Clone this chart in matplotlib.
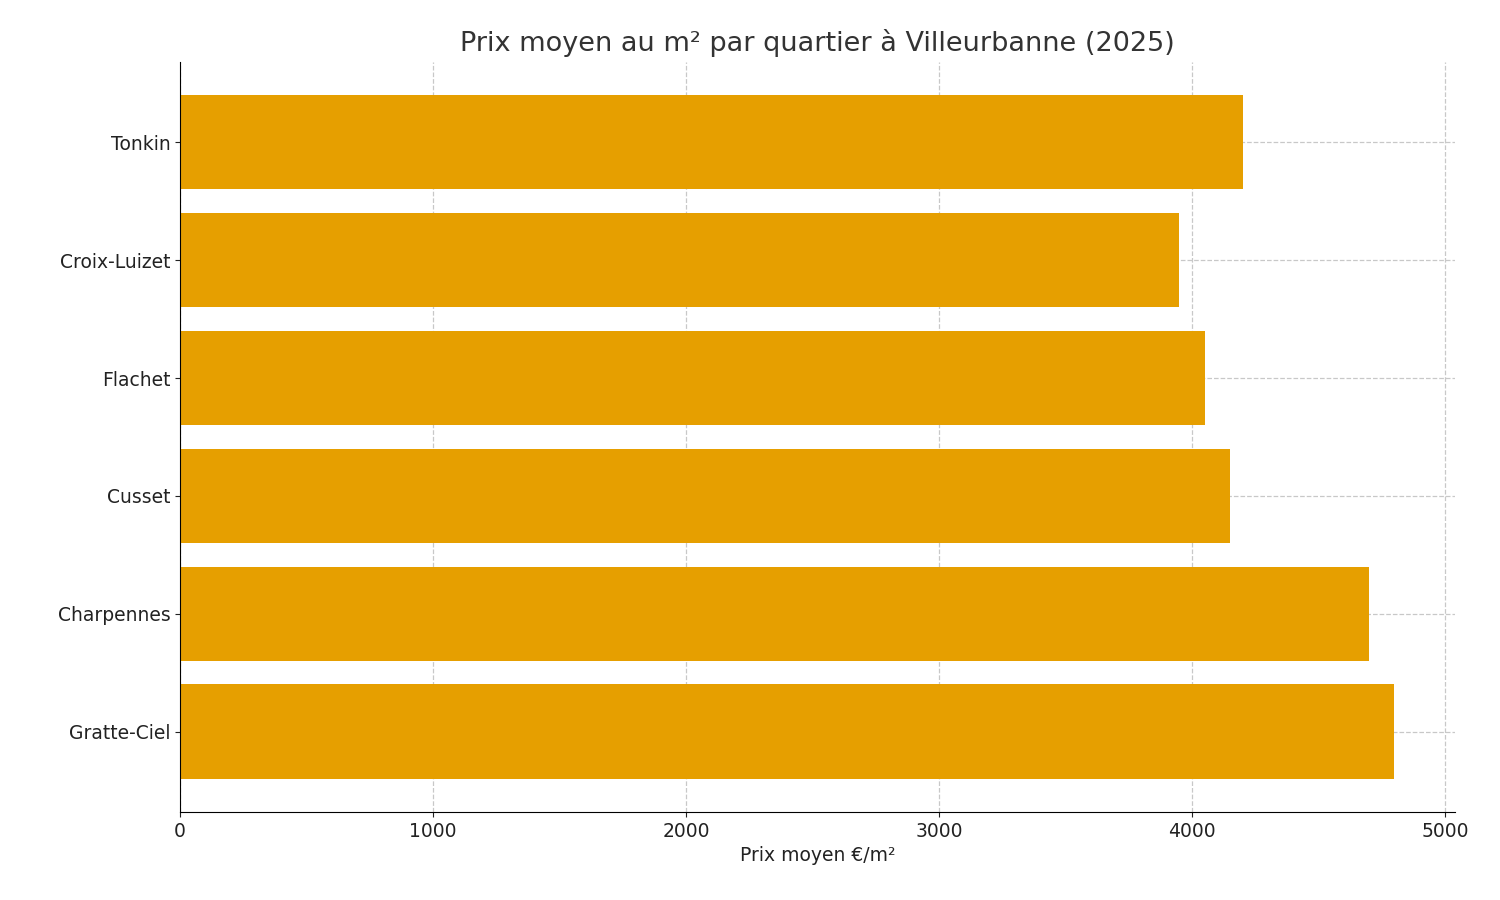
import matplotlib
matplotlib.use("Agg")
import matplotlib.pyplot as plt

quartiers = ["Gratte-Ciel", "Charpennes", "Cusset", "Flachet", "Croix-Luizet", "Tonkin"]
prix = [4800, 4700, 4150, 4050, 3950, 4200]

fig = plt.figure(figsize=(15, 9), dpi=100)
ax = fig.add_axes([0.12, 0.098, 0.85, 0.833])
ax.barh(quartiers, prix, color="#E69F00", height=0.8, zorder=2)
ax.set_xlim(0, 5040)
ax.set_ylim(-0.68, 5.68)
ax.grid(True, linestyle="--", color="#c8c8c8", linewidth=0.9, zorder=0)
ax.spines["top"].set_visible(False)
ax.spines["right"].set_visible(False)
ax.tick_params(labelsize=13.5, colors="#222222")
ax.set_xlabel("Prix moyen €/m²", fontsize=13.5, color="#222222")
ax.set_title("Prix moyen au m² par quartier à Villeurbanne (2025)", fontsize=19.5, color="#333333", pad=8)
fig.savefig("out.png")
